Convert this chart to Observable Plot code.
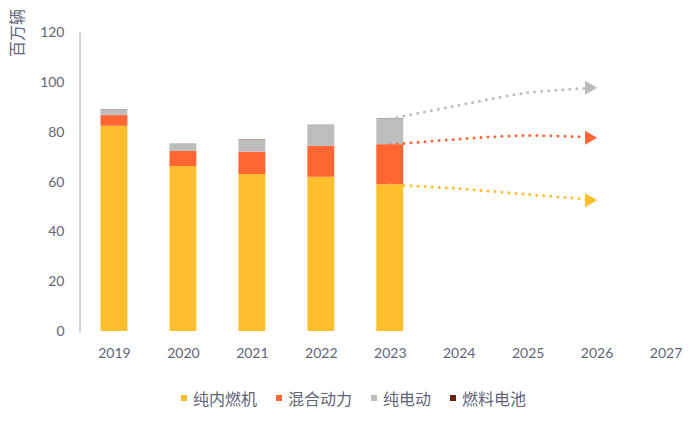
<!DOCTYPE html>
<html>
<head>
<meta charset="utf-8">
<script src="https://cdn.jsdelivr.net/npm/d3@7"></script>
<script src="https://cdn.jsdelivr.net/npm/@observablehq/plot@0.6"></script>
<style>
  html, body { margin: 0; padding: 0; background: #fff; }
  #chart { width: 700px; }
  .legend { display: flex; justify-content: center; align-items: center; gap: 19px;
    font-family: "Noto Sans CJK SC", sans-serif; font-size: 16px; color: #5f6577;
    margin-top: 13px; padding-left: 7px; line-height: 20px; }
  .legend span.sw { display: inline-block; width: 6px; height: 6px; margin-right: 6px; vertical-align: middle; }
  .legend .item { display: flex; align-items: center; }
</style>
</head>
<body>
<div id="chart"></div>
<script>
const years = ["2019", "2020", "2021", "2022", "2023", "2024", "2025", "2026", "2027"];
const barYears = ["2019", "2020", "2021", "2022", "2023"];
const types = ["纯内燃机", "混合动力", "纯电动", "燃料电池"];
const colors = ["#FFBE2B", "#FF6633", "#BDBDBD", "#6E1F0F"];
const ice = [82.5, 66.3, 63.1, 62.0, 59.0];
const hybrid = [4.3, 6.1, 9.0, 12.4, 16.1];
const bev = [2.3, 2.8, 5.0, 8.4, 10.4];
const fuelCell = [0.1, 0.1, 0.1, 0.1, 0.1];
const yTicks = [0, 20, 40, 60, 80, 100, 120];

const trendYears = ["2023", "2024", "2025", "2026"];
const iceTrend = [59.0, 57.4, 55.1, 52.8];
const hybridTrend = [75.1, 77.4, 78.8, 77.9];
const bevTrend = [85.5, 91.0, 96.0, 98.0];

const textColor = "#5f6577";

const series = [ice, hybrid, bev, fuelCell];
const bars = [];
barYears.forEach((yr, i) => {
  types.forEach((t, k) => bars.push({year: yr, type: t, value: series[k][i]}));
});

const trendSeries = [
  {type: "纯内燃机", vals: iceTrend},
  {type: "混合动力", vals: hybridTrend},
  {type: "纯电动", vals: bevTrend}
];
const trend = [];
trendSeries.forEach(s => trendYears.forEach((yr, i) => trend.push({year: yr, type: s.type, value: s.vals[i]})));
const ends = trend.filter(d => d.year === trendYears[trendYears.length - 1]);

const plot = Plot.plot({
  width: 700,
  height: 375,
  marginLeft: 79.5,
  marginRight: 0,
  marginTop: 32.5,
  marginBottom: 44,
  style: {fontFamily: "Lato, 'Noto Sans CJK SC', sans-serif", fontSize: "14px", color: textColor, background: "#fff"},
  x: {domain: years, paddingInner: 0.61, paddingOuter: 0.305, round: false, label: null},
  y: {domain: [0, 120], label: null},
  color: {domain: types, range: colors},
  marks: [
    Plot.barY(bars, {x: "year", y: "value", fill: "type", z: "type"}),
    Plot.line(trend, {x: "year", y: "value", z: "type", stroke: "type", curve: "catmull-rom",
      strokeWidth: 3, strokeDasharray: "0 7", strokeLinecap: "round"}),
    Plot.dot(ends, {x: "year", y: "value", fill: "type", symbol: "triangle", r: 5.2, rotate: 90, dx: -8}),
    Plot.axisX({tickSize: 0, tickPadding: 17, fill: textColor}),
    Plot.axisY({ticks: yTicks, tickSize: 0, tickPadding: 15.5, fill: textColor}),
    Plot.frame({anchor: "left", stroke: "#a6a6a6", strokeOpacity: 1}),
    Plot.text(["百万辆"], {frameAnchor: "top-left", text: d => d, rotate: -90, dx: -68, dy: 0,
      fontSize: 16, fill: textColor, textAnchor: "middle", fontFamily: "'Noto Sans CJK SC', sans-serif"})
  ]
});
document.getElementById("chart").appendChild(plot);

const legend = document.createElement("div");
legend.className = "legend";
types.forEach((t, i) => {
  const item = document.createElement("div");
  item.className = "item";
  const sw = document.createElement("span");
  sw.className = "sw";
  sw.style.background = colors[i];
  const label = document.createElement("span");
  label.textContent = t;
  item.appendChild(sw);
  item.appendChild(label);
  legend.appendChild(item);
});
document.getElementById("chart").appendChild(legend);
</script>
</body>
</html>
